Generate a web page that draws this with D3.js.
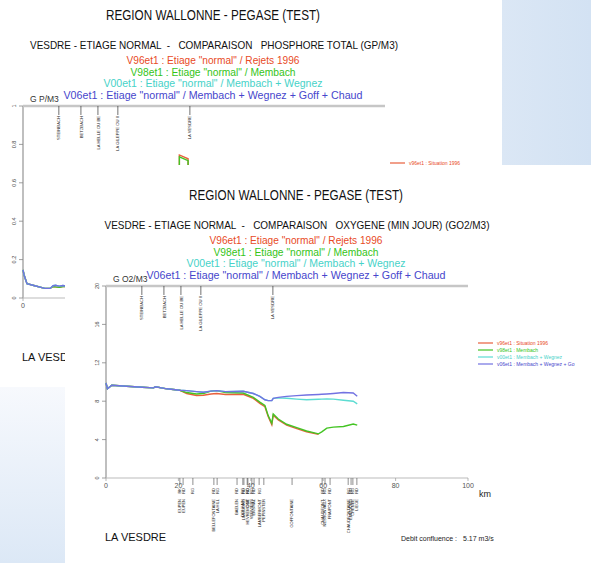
<!DOCTYPE html>
<html>
<head>
<meta charset="utf-8">
<script src="https://cdn.jsdelivr.net/npm/d3@7"></script>
<style>
  body { margin: 0; background: #fff; }
  text { font-family: "Liberation Sans", Arial, sans-serif; }
</style>
</head>
<body>
<div id="chart"></div>
<script>
// ---- data ----
var seriesNames = ["V96et1", "V98et1", "V00et1", "V06et1"];
var seriesColors = ["#e8603c", "#44c424", "#5cdcd2", "#7272e2"];
var textColors  = ["#e84a26", "#34c418", "#46d2c8", "#4646cc"];
var titleLines = [
  'V96et1 : Etiage "normal" / Rejets 1996',
  'V98et1 : Etiage "normal" / Membach',
  'V00et1 : Etiage "normal" / Membach + Wegnez',
  'V06et1 : Etiage "normal" / Membach + Wegnez + Goff + Chaud'
];

// top stations (km)
var topStationKm = [9.9, 16, 20.7, 26.2, 46.1];
var topStationNames = ["STEINBACH", "BETZBACH", "LA HELLE OU BE", "LA GILEPPE OU II", "LA VESDRE"];

// bottom stations (km)
var botStationKm = [20.4, 21.3, 24, 29.8, 30.7, 36.2, 37.8, 38.1, 39, 39.2, 40.3, 40.9, 42.3, 43.6, 51.4, 59.7, 60.5, 61.9, 66.9, 67.7, 68.2, 69.3];
var botStationCodes = ["RK", "RD", "RG", "RD", "RG", "RD", "RG", "RD", "RG", "RD", "RG", "RD", "RG", "", "", "RD", "RG", "RD", "RG", "RD", "RG", "RD"];
var botStationNames = ["EUPEN", "EUPEN", "", "BELLEFONTAINE", "LA HILL", "BAELEN", "DOLHAIN", "LIMBOURG", "GOE", "HEVREMONT", "VERVIERS", "ENSIVAL", "LAMBERMONT", "PEPINSTER", "GOFFONTAINE", "CHAUDFONT.", "NESSONVAUX", "FRAIPONT", "CHAUDFONTAINE", "EMBOURG", "CHENEE", "LIEGE"];

// oxygen (g O2/m3) vs km
var oxKm  = [0, 0.4, 1.6, 5.7, 10, 13.1, 13.7, 16.8, 20.4, 22.3, 25, 26.9, 29, 30.6, 33, 37.9, 40.7, 42.5, 43.9, 44.8, 45.8, 46.2, 47.6, 49.9, 52.7, 55.4, 58.7, 59.6, 61, 62.8, 65.6, 68.3, 69.4];
var oxV06 = [9.9, 9.3, 9.66, 9.56, 9.45, 9.39, 9.5, 9.29, 9.14, 9.1, 9.0, 8.93, 9.05, 9.1, 9.0, 9.04, 8.8, 8.5, 8.15, 8.06, 8.06, 8.3, 8.4, 8.5, 8.58, 8.65, 8.7, 8.72, 8.75, 8.8, 8.9, 8.85, 8.51];
var oxV00 = [9.9, 9.3, 9.66, 9.56, 9.45, 9.39, 9.5, 9.29, 9.14, 9.1, 9.0, 8.93, 9.05, 9.1, 9.0, 9.04, 8.8, 8.5, 8.15, 8.06, 8.06, 8.3, 8.35, 8.3, 8.22, 8.15, 8.2, 8.22, 8.24, 8.22, 8.1, 8.0, 7.72];
var oxV98 = [9.9, 9.3, 9.66, 9.56, 9.45, 9.39, 9.5, 9.29, 9.14, 8.9, 8.75, 8.8, 9.05, 9.1, 8.9, 8.85, 8.4, 7.9, 7.55, 6.5, 5.7, 6.67, 6.14, 5.6, 5.25, 4.9, 4.6, 4.8, 5.2, 5.3, 5.37, 5.62, 5.5];
var oxV96 = [9.9, 9.3, 9.66, 9.56, 9.45, 9.39, 9.5, 9.29, 9.14, 8.8, 8.6, 8.62, 8.75, 8.8, 8.7, 8.72, 8.3, 7.78, 7.42, 6.4, 5.55, 6.55, 6.05, 5.5, 5.15, 4.82, 4.55, null, null, null, null, null, null];

// phosphorus (g P/m3) vs km
var pKm  = [0, 0.3, 1.1, 3, 6, 7.5, 8.3, 9, 10, 11, 12, 20, 30, 43.1, 43.2, 45.6, 45.7, 55, 69.4];
var pV06 = [0.146, 0.12, 0.075, 0.065, 0.05, 0.05, 0.064, 0.066, 0.062, 0.065, 0.063, 0.06, 0.058, 0.06, 0.06, 0.06, 0.06, 0.055, 0.05];
var pV00 = [0.146, 0.12, 0.075, 0.065, 0.05, 0.05, 0.064, 0.066, 0.062, 0.065, 0.063, 0.06, 0.058, 0.06, 0.06, 0.06, 0.06, 0.056, 0.052];
var pV98 = [0.146, 0.12, 0.075, 0.065, 0.05, 0.05, 0.06, 0.058, 0.056, 0.06, 0.06, 0.06, 0.058, 0.06, 0.735, 0.715, 0.07, 0.065, 0.06];
var pV96 = [0.146, 0.12, 0.075, 0.065, 0.05, 0.05, 0.06, 0.058, 0.056, 0.06, 0.06, 0.06, 0.058, 0.06, 0.745, 0.725, 0.075, 0.07, 0.065];

var oxTicks = [0, 4, 8, 12, 16, 20];
var pTicks = [0, 0.2, 0.4, 0.6, 0.8, 1];
var kmTicks = [0, 20, 40, 60, 80, 100];

// ---- drawing ----
const W = 591, H = 563;
var svg = d3.select("#chart").append("svg").attr("width", W).attr("height", H);
var defs = svg.append("defs");

var gr1 = defs.append("linearGradient").attr("id", "bgTop").attr("x1", 0).attr("x2", 1).attr("y1", 0).attr("y2", 0);
gr1.append("stop").attr("offset", 0).attr("stop-color", "#dbe7f5");
gr1.append("stop").attr("offset", 1).attr("stop-color", "#d3e2f3");
var gr2 = defs.append("linearGradient").attr("id", "bgBot").attr("x1", 0).attr("x2", 0).attr("y1", 0).attr("y2", 1);
gr2.append("stop").attr("offset", 0).attr("stop-color", "#f7f9fd");
gr2.append("stop").attr("offset", 1).attr("stop-color", "#dce8f6");

svg.append("rect").attr("x", 0).attr("y", 0).attr("width", W).attr("height", H).style("fill", "#fff");
svg.append("rect").attr("x", 502).attr("y", 0).attr("width", 89).attr("height", 165).style("fill", "url(#bgTop)");
svg.append("rect").attr("x", 0).attr("y", 387).attr("width", 65).attr("height", 176).style("fill", "url(#bgBot)");

function drawWindow(o) {
  defs.append("clipPath").attr("id", o.id)
    .append("rect").attr("x", o.win[0]).attr("y", o.win[1]).attr("width", o.win[2]).attr("height", o.win[3]);
  var outer = svg.append("g").attr("clip-path", "url(#" + o.id + ")");
  outer.append("rect").attr("x", o.win[0]).attr("y", o.win[1]).attr("width", o.win[2]).attr("height", o.win[3]).style("fill", "#fff");
  var g = outer.append("g").attr("transform", "translate(" + o.dx + "," + o.dy + ")");

  // titles (layout in front window coordinates)
  g.append("text").attr("x", 296).attr("y", 200).attr("text-anchor", "middle")
    .attr("textLength", 214).attr("lengthAdjust", "spacingAndGlyphs")
    .style("font-size", "14px").style("fill", "#111").text("REGION WALLONNE - PEGASE (TEST)");
  g.append("text").attr("x", 297).attr("y", 229).attr("text-anchor", "middle")
    .attr("textLength", o.subW).attr("lengthAdjust", "spacingAndGlyphs")
    .style("font-size", "11px").style("fill", "#111").style("white-space", "pre")
    .text(o.subtitle);
  var lw = [173, 165, 219, 299];
  titleLines.forEach(function(t, i) {
    g.append("text").attr("x", 296).attr("y", 244 + i * 11.7).attr("text-anchor", "middle")
      .attr("textLength", lw[i]).attr("lengthAdjust", "spacingAndGlyphs")
      .style("font-size", "11px").style("fill", textColors[i]).text(t);
  });
  g.append("text").attr("x", 113).attr("y", 282).style("font-size", "8.5px").style("fill", "#333").text(o.unit);

  var x = d3.scaleLinear().domain([0, 100]).range([106, 468]);
  var y = d3.scaleLinear().domain([0, o.ymax]).range([478, 286]);

  // y axis
  g.append("line").attr("x1", x(0)).attr("x2", x(0)).attr("y1", y(o.ymax)).attr("y2", y(0))
    .style("stroke", "#aaa").style("stroke-width", 1.5);
  o.yticks.forEach(function(t) {
    g.append("line").attr("x1", x(0) - 4).attr("x2", x(0)).attr("y1", y(t)).attr("y2", y(t))
      .style("stroke", "#888").style("stroke-width", 0.8);
    g.append("text").attr("transform", "translate(" + (x(0) - 7) + "," + y(t) + ") rotate(-90)")
      .attr("text-anchor", "middle").style("font-size", "5.5px").style("fill", "#444").text(t);
  });

  // top line with stations
  g.append("line").attr("x1", x(0)).attr("x2", x(100)).attr("y1", y(o.ymax)).attr("y2", y(o.ymax))
    .style("stroke", "#c6c6c6").style("stroke-width", 2.5);
  topStationKm.forEach(function(k, i) {
    g.append("line").attr("x1", x(k)).attr("x2", x(k)).attr("y1", y(o.ymax)).attr("y2", y(o.ymax) + 9)
      .style("stroke", "#333").style("stroke-width", 0.7);
    g.append("text").attr("transform", "translate(" + (x(k) + 1.6) + "," + (y(o.ymax) + 10) + ") rotate(-90)")
      .attr("text-anchor", "end").style("font-size", "4.2px").style("fill", "#222").text(topStationNames[i]);
  });

  // x axis
  g.append("line").attr("x1", x(0)).attr("x2", x(100)).attr("y1", y(0)).attr("y2", y(0))
    .style("stroke", "#bbb").style("stroke-width", 1.2);
  kmTicks.forEach(function(t) {
    g.append("line").attr("x1", x(t)).attr("x2", x(t)).attr("y1", y(0)).attr("y2", y(0) + 3)
      .style("stroke", "#999").style("stroke-width", 0.7);
    g.append("text").attr("x", x(t)).attr("y", y(0) + 10).attr("text-anchor", "middle")
      .style("font-size", "7px").style("fill", "#555").text(t);
  });
  botStationKm.forEach(function(k, i) {
    g.append("line").attr("x1", x(k)).attr("x2", x(k)).attr("y1", y(0)).attr("y2", y(0) + 7)
      .style("stroke", "#444").style("stroke-width", 0.6);
    g.append("text").attr("transform", "translate(" + (x(k) + 1.4) + "," + (y(0) + 10) + ") rotate(-90)")
      .attr("text-anchor", "end").style("font-size", "4px").style("fill", "#222").text(botStationCodes[i]);
    g.append("text").attr("transform", "translate(" + (x(k) + 1.4) + "," + (y(0) + 21) + ") rotate(-90)")
      .attr("text-anchor", "end").style("font-size", "4px").style("fill", "#222").text(botStationNames[i]);
  });
  g.append("text").attr("x", 479).attr("y", 497).style("font-size", "9px").style("fill", "#222").text("km");

  // curves
  var line = d3.line()
    .defined(function(d) { return d[1] != null; })
    .x(function(d) { return x(d[0]); })
    .y(function(d) { return y(d[1]); });
  o.series.forEach(function(vals, i) {
    g.append("path").datum(o.km.map(function(k, j) { return [k, vals[j]]; }))
      .attr("d", line).style("fill", "none").style("stroke", seriesColors[i]).style("stroke-width", 1.4);
  });

  // legend
  o.legend.forEach(function(t, i) {
    var ly = 343 + i * 7;
    g.append("line").attr("x1", o.legX).attr("x2", o.legX + 15).attr("y1", ly).attr("y2", ly)
      .style("stroke", seriesColors[i]).style("stroke-width", 1.2);
    g.append("text").attr("x", o.legX + 19).attr("y", ly + 1.8).style("font-size", "5px")
      .style("fill", textColors[i]).text(t);
  });

  g.append("text").attr("x", 105).attr("y", 541).style("font-size", "11px").style("fill", "#111").text("LA VESDRE");
  g.append("text").attr("x", 401).attr("y", 541).style("font-size", "7px").style("fill", "#222").text("Debit confluence :");
  g.append("text").attr("x", 463).attr("y", 541).style("font-size", "7px").style("fill", "#222").text("5.17 m3/s");
}

// back window : phosphore
drawWindow({
  id: "clipBack", win: [0, 0, 502, 387], dx: -83, dy: -180,
  subtitle: "VESDRE - ETIAGE NORMAL  -   COMPARAISON   PHOSPHORE TOTAL (GP/M3)", subW: 368,
  unit: "G P/M3", ymax: 1, yticks: pTicks,
  km: pKm, series: [pV96, pV98, pV00, pV06],
  legend: ["v96et1 : Situation 1996"], legX: 473
});

// front window : oxygene
drawWindow({
  id: "clipFront", win: [65, 165, 526, 398], dx: 0, dy: 0,
  subtitle: "VESDRE - ETIAGE NORMAL  -   COMPARAISON   OXYGENE (MIN JOUR) (GO2/M3)", subW: 385,
  unit: "G O2/M3", ymax: 20, yticks: oxTicks,
  km: oxKm, series: [oxV96, oxV98, oxV00, oxV06],
  legend: ["v96et1 : Situation 1996", "v98et1 : Membach", "v00et1 : Membach + Wegnez", "v06et1 : Membach + Wegnez + Go"],
  legX: 478
});
</script>
</body>
</html>
